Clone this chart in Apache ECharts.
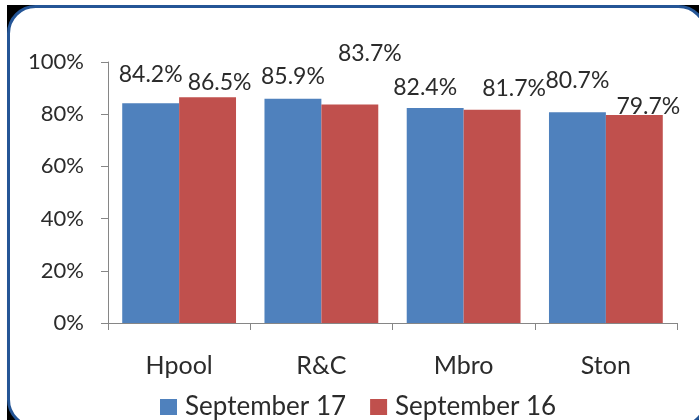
<!DOCTYPE html>
<html>
<head>
<meta charset="utf-8">
<script src="https://cdn.jsdelivr.net/npm/echarts@6/dist/echarts.min.js"></script>
<style>
  html, body { margin: 0; padding: 0; background: #fff; }
  #chart { width: 699px; height: 420px; }
</style>
</head>
<body>
<div id="chart"></div>
<script>
// data
const categories = ['Hpool', 'R&C', 'Mbro', 'Ston'];
const sept17 = [84.2, 85.9, 82.4, 80.7];
const sept16 = [86.5, 83.7, 81.7, 79.7];
const yTicks = [0, 20, 40, 60, 80, 100];

// where the excel labels ended up, relative to the bar top
const offs17 = [[0, -17], [0, -11], [-10, -9], [0, -20]];
const offs16 = [[12, -3], [20, -39], [22, -10], [14, 3]];

const font = 'Lato';
const txt = '#2b2b2b';
const axisGrey = '#868686';

function withLabels(vals, offs) {
  return vals.map((v, i) => ({
    value: v,
    label: { offset: offs[i] }
  }));
}

let myChart = echarts.init(document.getElementById('chart'), null, { renderer: 'canvas' });

myChart.setOption({
  animation: false,
  backgroundColor: '#fff',
  textStyle: { fontFamily: font },
  graphic: [
    { type: 'rect', silent: true, z: -20,
      shape: { x: 7, y: 5, width: 700, height: 420 },
      style: { fill: '#000' } },
    { type: 'rect', silent: true, z: -19,
      shape: { x: 8.5, y: 6.5, width: 697, height: 420, r: 27 },
      style: { fill: '#fff', stroke: '#245596', lineWidth: 3 } }
  ],
  grid: { left: 108, right: 22, top: 62, bottom: 97 },
  legend: {
    data: ['September 17', 'September 16'],
    left: 155,
    top: 389,
    icon: 'rect',
    itemWidth: 17,
    itemHeight: 16,
    itemGap: 24,
    textStyle: { fontSize: 26, color: txt, fontFamily: font, padding: [0, 0, 0, 3] }
  },
  xAxis: {
    type: 'category',
    data: categories,
    axisLine: { lineStyle: { color: axisGrey, width: 1 } },
    axisTick: { show: true, length: 7, lineStyle: { color: axisGrey } },
    axisLabel: { fontSize: 25, color: txt, margin: 30, fontFamily: font }
  },
  yAxis: {
    type: 'value',
    min: yTicks[0],
    max: yTicks[yTicks.length - 1],
    interval: 20,
    splitLine: { show: false },
    axisLine: { show: true, lineStyle: { color: axisGrey, width: 1 } },
    axisTick: { show: true, length: 7, lineStyle: { color: axisGrey } },
    axisLabel: { fontSize: 22, color: txt, margin: 24, formatter: '{value}%', fontFamily: font }
  },
  series: [
    {
      name: 'September 17',
      type: 'bar',
      data: withLabels(sept17, offs17),
      barGap: 0,
      barCategoryGap: '20%',
      itemStyle: { color: '#4f81bd' },
      label: {
        show: true, position: 'top', distance: 0,
        fontSize: 23, lineHeight: 23, color: txt, fontFamily: font,
        formatter: p => p.value.toFixed(1) + '%'
      }
    },
    {
      name: 'September 16',
      type: 'bar',
      data: withLabels(sept16, offs16),
      barGap: 0,
      barCategoryGap: '20%',
      itemStyle: { color: '#c0504d' },
      label: {
        show: true, position: 'top', distance: 0,
        fontSize: 23, lineHeight: 23, color: txt, fontFamily: font,
        formatter: p => p.value.toFixed(1) + '%'
      }
    }
  ]
});
</script>
</body>
</html>
